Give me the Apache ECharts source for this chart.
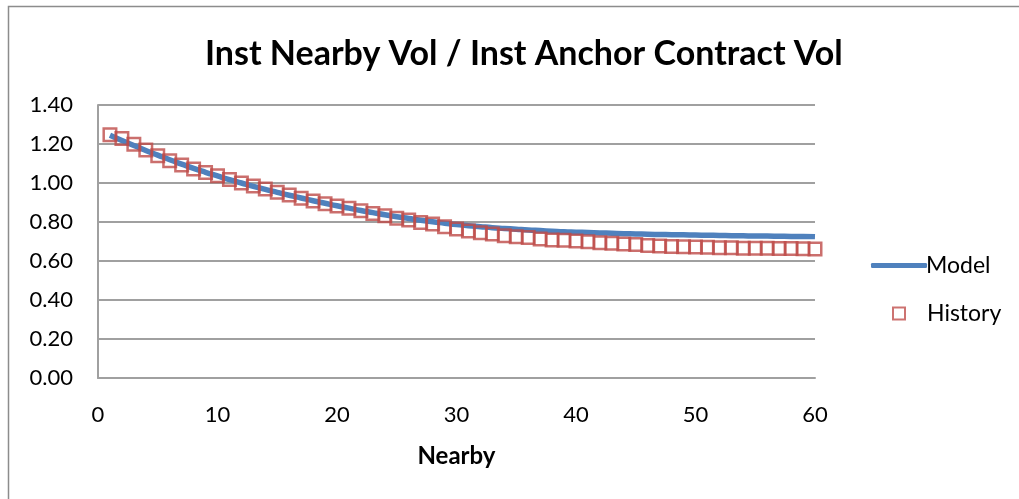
<!DOCTYPE html>
<html>
<head>
<meta charset="utf-8">
<script src="https://cdn.jsdelivr.net/npm/echarts@6/dist/echarts.min.js"></script>
<style>
html, body { margin: 0; padding: 0; background: #fff; }
#chart { width: 1019px; height: 499px; }
</style>
</head>
<body>
<div id="chart"></div>
<script>
var nearby = [1, 2, 3, 4, 5, 6, 7, 8, 9, 10, 11, 12, 13, 14, 15, 16, 17, 18, 19, 20,
  21, 22, 23, 24, 25, 26, 27, 28, 29, 30, 31, 32, 33, 34, 35, 36, 37, 38, 39, 40,
  41, 42, 43, 44, 45, 46, 47, 48, 49, 50, 51, 52, 53, 54, 55, 56, 57, 58, 59, 60];

var modelVals = [1.245, 1.218, 1.192, 1.167, 1.143, 1.119, 1.097, 1.075, 1.055, 1.036,
  1.017, 1.000, 0.983, 0.967, 0.952, 0.937, 0.923, 0.909, 0.896, 0.883,
  0.871, 0.859, 0.848, 0.837, 0.827, 0.818, 0.809, 0.801, 0.794, 0.787,
  0.781, 0.776, 0.771, 0.767, 0.763, 0.759, 0.756, 0.753, 0.750, 0.748,
  0.746, 0.744, 0.742, 0.740, 0.739, 0.737, 0.736, 0.735, 0.734, 0.733,
  0.732, 0.731, 0.730, 0.729, 0.728, 0.728, 0.727, 0.726, 0.726, 0.725];

var historyVals = [1.248, 1.228, 1.199, 1.169, 1.140, 1.114, 1.092, 1.072, 1.054, 1.037,
  1.018, 1.000, 0.985, 0.969, 0.952, 0.938, 0.922, 0.908, 0.894, 0.882,
  0.870, 0.858, 0.844, 0.832, 0.819, 0.810, 0.798, 0.790, 0.776, 0.764,
  0.754, 0.745, 0.738, 0.730, 0.725, 0.720, 0.713, 0.708, 0.706, 0.702,
  0.699, 0.694, 0.691, 0.687, 0.684, 0.680, 0.677, 0.675, 0.673, 0.672,
  0.670, 0.668, 0.668, 0.666, 0.666, 0.665, 0.664, 0.664, 0.663, 0.662];

var seriesNames = ['Model', 'History'];
var chartTitle = 'Inst Nearby Vol / Inst Anchor Contract Vol';
var xName = 'Nearby';

function pairs(xs, ys) {
  var out = [];
  for (var i = 0; i < xs.length; i++) out.push([xs[i], ys[i]]);
  return out;
}

var FONT = 'Lato, "Open Sans", sans-serif';
var GRID_COLOR = '#a0a0a0';
var BLUE = '#4f81bd';
var RED = '#c0504d';

var myChart = echarts.init(document.getElementById('chart'));
var option = {
  animation: false,
  backgroundColor: '#fff',
  textStyle: { fontFamily: FONT },
  title: {
    text: chartTitle,
    left: 200,
    top: 32,
    textStyle: { fontSize: 34, fontWeight: 'bold', color: '#000', fontFamily: FONT }
  },
  graphic: [
    {
      type: 'rect',
      shape: { x: 8.5, y: 6.5, width: 1200, height: 700 },
      style: { fill: null, stroke: '#8c8c8c', lineWidth: 1.5 },
      silent: true
    }
  ],
  legend: [
    {
      data: [{ name: seriesNames[0], icon: 'roundRect' }],
      left: 866,
      top: 249,
      itemWidth: 56,
      itemHeight: 5,
      itemStyle: { color: BLUE },
      textStyle: { fontSize: 23, color: '#000', fontFamily: FONT, padding: [0, 0, 0, -6] }
    },
    {
      data: [{ name: seriesNames[1], icon: 'rect' }],
      left: 887,
      top: 297,
      itemWidth: 12,
      itemHeight: 12,
      itemStyle: { color: 'transparent', borderColor: RED, borderWidth: 2 },
      textStyle: { fontSize: 23, color: '#000', fontFamily: FONT, padding: [0, 0, 0, 17] }
    }
  ],
  grid: { left: 98, right: 204, top: 105, bottom: 121 },
  xAxis: {
    type: 'value',
    min: 0,
    max: 60,
    interval: 10,
    name: xName,
    nameLocation: 'middle',
    nameGap: 66,
    nameTextStyle: { fontSize: 24, fontWeight: 'bold', color: '#000', fontFamily: FONT },
    axisLine: { show: true, lineStyle: { color: GRID_COLOR, width: 2 } },
    axisTick: { show: false },
    splitLine: { show: false },
    axisLabel: { fontSize: 22, color: '#000', margin: 26, fontFamily: FONT }
  },
  yAxis: {
    type: 'value',
    min: 0,
    max: 1.4,
    interval: 0.2,
    axisLine: { show: true, lineStyle: { color: GRID_COLOR, width: 2 } },
    axisTick: { show: false },
    splitLine: { show: true, lineStyle: { color: GRID_COLOR, width: 2 } },
    axisLabel: {
      fontSize: 22, color: '#000', margin: 25, fontFamily: FONT,
      formatter: function (v) { return v.toFixed(2); }
    }
  },
  series: [
    {
      name: seriesNames[0],
      type: 'line',
      data: pairs(nearby, modelVals),
      showSymbol: false,
      symbol: 'none',
      smooth: true,
      lineStyle: { color: BLUE, width: 5.5 },
      itemStyle: { color: BLUE },
      z: 2
    },
    {
      name: seriesNames[1],
      type: 'scatter',
      data: pairs(nearby, historyVals),
      symbol: 'rect',
      symbolSize: 12.5,
      itemStyle: { color: 'transparent', borderColor: '#be4b48', borderWidth: 2.5 },
      z: 3
    }
  ]
};

option && myChart.setOption(option);
</script>
</body>
</html>
